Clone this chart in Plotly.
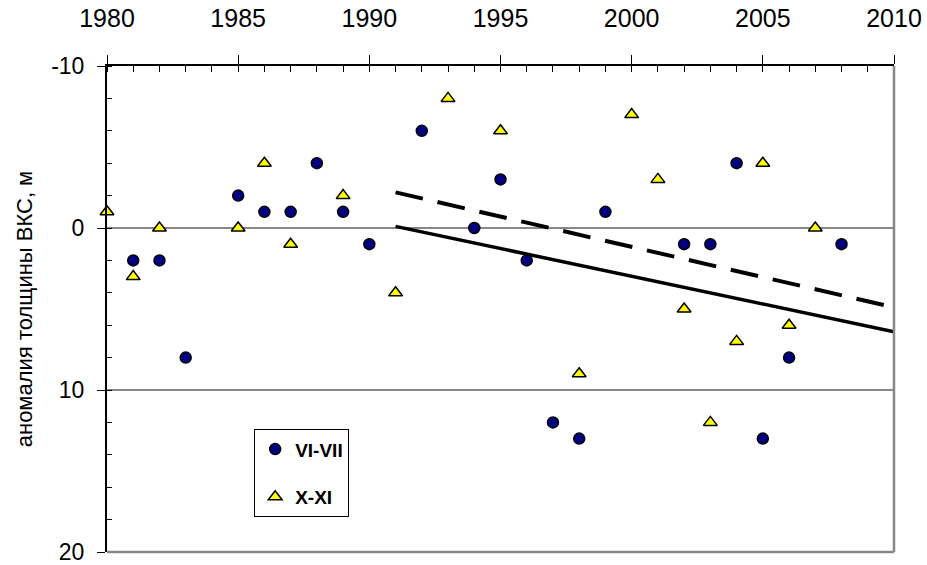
import plotly.graph_objects as go

# Ice-cover thickness anomaly, m (positive = thinner)
years_summer = [1981, 1982, 1983, 1985, 1986, 1987, 1988, 1989, 1990, 1992, 1994,
                1995, 1996, 1997, 1998, 1999, 2002, 2003, 2004, 2005, 2006, 2008]
anom_summer = [2, 2, 8, -2, -1, -1, -4, -1, 1, -6, 0,
               -3, 2, 12, 13, -1, 1, 1, -4, 13, 8, 1]

years_autumn = [1980, 1981, 1982, 1985, 1986, 1987, 1989, 1991, 1993, 1995,
                1998, 2000, 2001, 2002, 2003, 2004, 2005, 2006, 2007]
anom_autumn = [-1, 3, 0, 0, -4, 1, -2, 4, -8, -6,
               9, -7, -3, 5, 12, 7, -4, 6, 0]

# Linear trends over 1991-2010
trend_years = [1991, 2010]
trend_summer = [-0.1, 6.4]
trend_autumn = [-2.2, 4.9]

x_ticks = [1980, 1985, 1990, 1995, 2000, 2005, 2010]
y_ticks = [-10, 0, 10, 20]

FONT = "Liberation Sans, Arial, sans-serif"

fig = go.Figure()

fig.add_trace(go.Scatter(
    x=trend_years, y=trend_summer, mode="lines",
    line=dict(color="black", width=3.5), showlegend=False, hoverinfo="skip"))
fig.add_trace(go.Scatter(
    x=trend_years, y=trend_autumn, mode="lines",
    line=dict(color="black", width=4, dash="28px,15px"), showlegend=False, hoverinfo="skip"))

fig.add_trace(go.Scatter(
    x=years_summer, y=anom_summer, mode="markers", name="VI-VII",
    legendgroup="a", cliponaxis=False,
    marker=dict(symbol="circle", size=11, color="#000080",
                line=dict(color="black", width=1.5))))
fig.add_trace(go.Scatter(
    x=years_autumn, y=anom_autumn, mode="markers", name="X-XI",
    legendgroup="b", cliponaxis=False,
    marker=dict(symbol="triangle-up", size=12, color="#FFFF00",
                line=dict(color="black", width=1.5))))

# helper trace for the overlaid axis that draws the inward halves of the major ticks
fig.add_trace(go.Scatter(x=[1980], y=[0], xaxis="x2", mode="markers",
                         marker=dict(opacity=0), showlegend=False, hoverinfo="skip"))

fig.update_layout(
    width=927, height=565,
    margin=dict(l=107, r=33, t=66, b=13),
    paper_bgcolor="white", plot_bgcolor="white",
    font=dict(family=FONT, color="black"),
    xaxis=dict(
        range=[1980, 2010], side="top", automargin=False,
        tickmode="array", tickvals=x_ticks, ticktext=[str(v) for v in x_ticks],
        ticks="outside", ticklen=9, tickwidth=1.2, tickcolor="black",
        ticklabelstandoff=18, ticklabeloverflow="allow",
        minor=dict(ticks="inside", dtick=1, ticklen=6, tickwidth=1, tickcolor="black"),
        showline=True, linecolor="black", linewidth=2,
        showgrid=False, zeroline=False,
        tickfont=dict(size=25, family=FONT, color="black"),
    ),
    xaxis2=dict(
        range=[1980, 2010], overlaying="x", side="top", anchor="y", automargin=False,
        tickmode="array", tickvals=x_ticks, showticklabels=False,
        ticks="inside", ticklen=6, tickwidth=1.2, tickcolor="black",
        showline=False, showgrid=False, zeroline=False,
    ),
    yaxis=dict(
        range=[20, -10], automargin=False,
        tickmode="array", tickvals=y_ticks, ticktext=[str(v) for v in y_ticks],
        ticks="outside", ticklen=8, tickwidth=1.2, tickcolor="black",
        ticklabelstandoff=8, ticklabeloverflow="allow",
        minor=dict(ticks="inside", dtick=2, ticklen=5, tickwidth=1, tickcolor="black",
                   showgrid=False),
        showline=True, linecolor="black", linewidth=2,
        showgrid=True, gridcolor="#888888", gridwidth=2, zeroline=False,
        tickfont=dict(size=23, family=FONT, color="black"),
        title=dict(text="аномалия толщины ВКС, м", standoff=12,
                   font=dict(size=22, family=FONT, color="black")),
    ),
    legend=dict(
        x=0.187, y=0.2526, xanchor="left", yanchor="top",
        bgcolor="white", bordercolor="black", borderwidth=1,
        font=dict(size=19, family=FONT, color="black", weight="bold"),
        traceorder="grouped", tracegroupgap=20,
    ),
    shapes=[
        dict(type="line", xref="x domain", yref="y domain", x0=1, x1=1, y0=0, y1=1,
             line=dict(color="#888888", width=2.5)),
        dict(type="line", xref="x domain", yref="y domain", x0=0, x1=1, y0=0, y1=0,
             line=dict(color="#888888", width=2.5)),
    ],
)

fig.write_html("out.html")
